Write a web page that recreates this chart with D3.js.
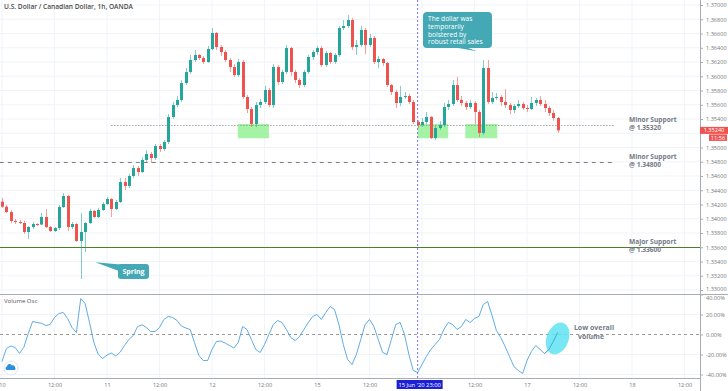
<!DOCTYPE html>
<html>
<head>
<meta charset="utf-8">
<script src="https://cdn.jsdelivr.net/npm/d3@7"></script>
<style>
  body { margin: 0; background: #fff; }
  svg { display: block; }
  text { font-family: "Open Sans", Lato, sans-serif; }
</style>
</head>
<body>
<svg id="chart" width="728" height="391"></svg>
<script>
// hourly USD/CAD bars starting 10 Jun 00:00 (open = previous close)
const firstOpen = 1.34239;
const closes = [
  1.34169, 1.34095, 1.33969, 1.33954, 1.33940, 1.33814, 1.33884, 1.33926, 1.33919, 1.34025,
  1.33884, 1.33828, 1.33870, 1.34165, 1.34319, 1.33884, 1.33926, 1.33688, 1.33814, 1.33940,
  1.34109, 1.34025, 1.34123, 1.34207, 1.34277, 1.34137, 1.34235, 1.34516, 1.34460, 1.34600,
  1.34712, 1.34656, 1.34825, 1.34909, 1.34853, 1.35021, 1.34979, 1.35077, 1.35428, 1.35596,
  1.35667, 1.35905, 1.36060, 1.36228, 1.36298, 1.36256, 1.36200, 1.36382, 1.36607, 1.36411,
  1.36340, 1.36228, 1.36130, 1.36018, 1.36200, 1.35709, 1.35540, 1.35330, 1.35596, 1.35639,
  1.35807, 1.35596, 1.36130, 1.35919, 1.36060, 1.36396, 1.36060, 1.35947, 1.35877, 1.36060,
  1.36270, 1.36340, 1.36396, 1.36158, 1.36326, 1.36200, 1.36298, 1.36677, 1.36705, 1.36789,
  1.36411, 1.36439, 1.36649, 1.36439, 1.36537, 1.36200, 1.36242, 1.36186, 1.35877, 1.35779,
  1.35625, 1.35709, 1.35723, 1.35639, 1.35358, 1.35316, 1.35358, 1.35428, 1.35133, 1.35274,
  1.35316, 1.35568, 1.35611, 1.35877, 1.35667, 1.35625, 1.35568, 1.35625, 1.35498, 1.35204,
  1.36116, 1.35639, 1.35695, 1.35709, 1.35639, 1.35596, 1.35526, 1.35582, 1.35611, 1.35554,
  1.35540, 1.35625, 1.35667, 1.35611, 1.35554, 1.35484, 1.35414, 1.35240
];
const highs = [
  1.34291, 1.34193, 1.34123, 1.33997, 1.33983, 1.33969, 1.33898, 1.33954, 1.33940, 1.34081,
  1.34137, 1.33898, 1.33884, 1.34193, 1.34362, 1.34333, 1.33954, 1.33940, 1.34081, 1.33954,
  1.34137, 1.34123, 1.34151, 1.34235, 1.34305, 1.34291, 1.34263, 1.34572, 1.34572, 1.34628,
  1.34754, 1.34740, 1.34867, 1.34965, 1.34937, 1.35049, 1.35049, 1.35105, 1.35470, 1.35639,
  1.35723, 1.35947, 1.36116, 1.36298, 1.36368, 1.36312, 1.36284, 1.36425, 1.36677, 1.36621,
  1.36439, 1.36368, 1.36256, 1.36172, 1.36242, 1.36228, 1.35737, 1.35568, 1.35639, 1.35681,
  1.35863, 1.35835, 1.36172, 1.36158, 1.36088, 1.36439, 1.36411, 1.36088, 1.35975, 1.36088,
  1.36298, 1.36368, 1.36425, 1.36425, 1.36354, 1.36340, 1.36326, 1.36705, 1.36789, 1.36860,
  1.36818, 1.36509, 1.36705, 1.36677, 1.36593, 1.36565, 1.36284, 1.36256, 1.36200, 1.35891,
  1.35807, 1.35863, 1.35779, 1.35751, 1.35667, 1.35386, 1.35414, 1.35498, 1.35442, 1.35302,
  1.35372, 1.35625, 1.35667, 1.35947, 1.35990, 1.35723, 1.35653, 1.35667, 1.35653, 1.35526,
  1.36228, 1.36228, 1.35779, 1.35765, 1.35737, 1.35821, 1.35625, 1.35611, 1.35667, 1.35639,
  1.35596, 1.35709, 1.35695, 1.35723, 1.35667, 1.35582, 1.35526, 1.35428
];
const lows = [
  1.34151, 1.34081, 1.33940, 1.33926, 1.33926, 1.33786, 1.33716, 1.33856, 1.33898, 1.33912,
  1.33870, 1.33814, 1.33814, 1.33842, 1.34151, 1.33828, 1.33856, 1.33674, 1.33154, 1.33533,
  1.33926, 1.34011, 1.34011, 1.34109, 1.34193, 1.34025, 1.34123, 1.34221, 1.34404, 1.34432,
  1.34572, 1.34600, 1.34642, 1.34796, 1.34782, 1.34825, 1.34937, 1.34951, 1.35049, 1.35400,
  1.35568, 1.35639, 1.35877, 1.36032, 1.36200, 1.36228, 1.36172, 1.36186, 1.36368, 1.36368,
  1.36284, 1.36200, 1.36060, 1.35990, 1.35990, 1.35681, 1.35484, 1.35288, 1.35288, 1.35554,
  1.35611, 1.35568, 1.35554, 1.35877, 1.35891, 1.36032, 1.36004, 1.35905, 1.35835, 1.35849,
  1.36032, 1.36228, 1.36298, 1.36130, 1.36130, 1.36172, 1.36172, 1.36270, 1.36649, 1.36677,
  1.36368, 1.36298, 1.36411, 1.36312, 1.36411, 1.36172, 1.36116, 1.36144, 1.35849, 1.35737,
  1.35554, 1.35582, 1.35681, 1.35611, 1.35330, 1.35274, 1.35288, 1.35330, 1.35119, 1.35105,
  1.35246, 1.35288, 1.35526, 1.35582, 1.35639, 1.35582, 1.35526, 1.35540, 1.35330, 1.35147,
  1.35176, 1.35611, 1.35611, 1.35667, 1.35582, 1.35554, 1.35470, 1.35484, 1.35554, 1.35526,
  1.35498, 1.35526, 1.35582, 1.35582, 1.35498, 1.35442, 1.35372, 1.35204
];
// volume oscillator, percent, one value per bar
const volOsc = [
  -27, -14, -11.5, -13, -19, -12.7, 1, 13, 12, 11.3,
  9, 10, 17, 21, 22, 16, 7, 2, 36, 31,
  12, -8, -20, -24, -20.5, -18.5, -21.5, -17.7, -11, -5,
  -1, 8, 9.7, 7, 3, 3, 7, 15, 18, 17,
  14, 8.5, 6.5, 5, -8, -21, -26, -26, -15, -7,
  -6.5, -8.5, -11, -13.5, -8, 8, 5, -5, -15, -18,
  -10, 0, 10, 14, 12, 5, -3, -6, -2, 5,
  12, 18, 20, 15, 22, 28, 25, 10, -10, -25,
  -30, -20, -5, 10, 15, 8, -5, -18, -20, -5,
  10, 12, 0, -20, -36, -38, -30, -22, -15, -10,
  -5, 5, 12, 10, 5, 8, 15, 12, 16, 18,
  30, 33, 19, 4, -3, -12, -22, -32, -36, -39,
  -26, -17, -11, -15, -19, -15, -7, 2
];

const priceTicks = [1.33, 1.332, 1.334, 1.336, 1.338, 1.34, 1.342, 1.344, 1.346, 1.348,
  1.35, 1.352, 1.354, 1.356, 1.358, 1.36, 1.362, 1.364, 1.366, 1.368, 1.37];
const volTicks = [40, 20, 0, -20, -40];
const timeTickIndex = [0, 12, 24, 36, 48, 60, 72, 84, 96, 108, 120, 132, 144, 156];
const timeLabels = ['10', '12:00', '11', '12:00', '12', '12:00', '15', '12:00', '16', '12:00', '17', '12:00', '18', '12:00'];

// support levels and highlighted zones
const levels = [
  { price: 1.3532, from: 25, to: 140, style: 'dot', label: ['Minor Support', '@ 1.35320'] },
  { price: 1.348, from: -0.5, to: 140, style: 'dash', label: ['Minor Support', '@ 1.34800'] },
  { price: 1.336, from: -0.5, to: 160, style: 'solid', label: ['Major Support', '@ 1.33600'] }
];
const zones = [
  { from: 53.9, to: 61, top: 1.3533, bottom: 1.3513 },
  { from: 95, to: 102, top: 1.3533, bottom: 1.3513 },
  { from: 105.9, to: 113.2, top: 1.3533, bottom: 1.3513 }
];
const crossIndex = 95;
const lastPrice = 1.3524;

const svg = d3.select('#chart');
const AXIS_X = 700;
const x = d3.scaleLinear().domain([0, 160]).range([2, 702]);
const y = d3.scaleLinear().domain([1.33, 1.37]).range([290, 5]);
const yv = d3.scaleLinear().domain([-40, 40]).range([374.5, 294.5]);

const defs = svg.append('defs');
defs.append('clipPath').attr('id', 'plot')
  .append('rect').attr('x', 0).attr('y', 0).attr('width', AXIS_X).attr('height', 378);
defs.append('clipPath').attr('id', 'priceAxis')
  .append('rect').attr('x', AXIS_X).attr('y', 0).attr('width', 28).attr('height', 294.5);
defs.append('clipPath').attr('id', 'volAxis')
  .append('rect').attr('x', AXIS_X).attr('y', 295).attr('width', 28).attr('height', 84);

// grid
const grid = svg.append('g');
grid.selectAll('.hg').data(priceTicks).enter().append('line')
  .attr('x1', 0).attr('x2', AXIS_X).attr('y1', d => y(d)).attr('y2', d => y(d))
  .attr('stroke', '#f0f3f8').attr('stroke-width', 1);
grid.selectAll('.vg').data(volTicks.filter(d => d !== 0)).enter().append('line')
  .attr('x1', 0).attr('x2', AXIS_X).attr('y1', d => yv(d)).attr('y2', d => yv(d))
  .attr('stroke', '#f0f3f8');
grid.selectAll('.tg').data(timeTickIndex).enter().append('line')
  .attr('x1', d => x(d)).attr('x2', d => x(d)).attr('y1', 0).attr('y2', 378)
  .attr('stroke', '#f0f3f8');

// zones
svg.append('g').selectAll('rect').data(zones).enter().append('rect')
  .attr('x', d => x(d.from)).attr('width', d => x(d.to) - x(d.from))
  .attr('y', d => y(d.top)).attr('height', d => y(d.bottom) - y(d.top))
  .attr('fill', '#8ef08e').attr('opacity', 0.8);

// level lines
const dashes = { dot: '1,2', dash: '4,4', solid: null };
const lvl = svg.append('g');
lvl.selectAll('line').data(levels).enter().append('line')
  .attr('x1', d => x(d.from)).attr('x2', d => Math.min(x(d.to), AXIS_X))
  .attr('y1', d => Math.round(y(d.price)) + 0.5).attr('y2', d => Math.round(y(d.price)) + 0.5)
  .attr('stroke', d => d.style === 'solid' ? '#4a7f2c' : '#808080')
  .attr('stroke-dasharray', d => dashes[d.style]);
levels.forEach(d => {
  d.label.forEach((s, k) =>
    lvl.append('text').attr('x', 629).attr('y', y(d.price) - 2.8 + k * 8)
      .attr('font-size', 6.6).attr('font-weight', 'bold').attr('fill', '#737b87').text(s));
});

// candles
const bars = closes.map((c, i) => ({ i, o: i ? closes[i - 1] : firstOpen, c, h: highs[i], l: lows[i] }));
const up = '#26a69a', down = '#ef5350';
const cg = svg.append('g').attr('clip-path', 'url(#plot)');
cg.selectAll('.wick').data(bars).enter().append('line')
  .attr('x1', d => Math.round(x(d.i)) + 0.5).attr('x2', d => Math.round(x(d.i)) + 0.5)
  .attr('y1', d => y(d.h)).attr('y2', d => y(d.l))
  .attr('stroke', d => d.c >= d.o ? up : down).attr('stroke-width', 1).attr('opacity', 0.55);
cg.selectAll('.body').data(bars).enter().append('rect')
  .attr('x', d => Math.round(x(d.i)) - 1).attr('width', 3)
  .attr('y', d => y(Math.max(d.o, d.c)))
  .attr('height', d => Math.max(1, Math.abs(y(d.o) - y(d.c))))
  .attr('fill', d => d.c >= d.o ? up : down);

// volume panel
svg.append('line').attr('x1', 0).attr('x2', AXIS_X).attr('y1', yv(0)).attr('y2', yv(0))
  .attr('stroke', '#9a9a9a').attr('stroke-dasharray', '3,3');
svg.append('path').datum(volOsc)
  .attr('d', d3.line().x((d, i) => x(i)).y(d => yv(d)))
  .attr('fill', 'none').attr('stroke', '#4ea3e0').attr('stroke-width', 0.9);

// panel borders
svg.append('line').attr('x1', 0).attr('x2', 728).attr('y1', 294.5).attr('y2', 294.5).attr('stroke', '#a9acb3');
svg.append('line').attr('x1', 0).attr('x2', AXIS_X).attr('y1', 378.5).attr('y2', 378.5).attr('stroke', '#a9acb3');
svg.append('line').attr('x1', AXIS_X + 0.5).attr('x2', AXIS_X + 0.5).attr('y1', 0).attr('y2', 391).attr('stroke', '#a9acb3');

// crosshair
svg.append('line').attr('x1', x(crossIndex)).attr('x2', x(crossIndex)).attr('y1', 0).attr('y2', 378)
  .attr('stroke', '#7a6ef0').attr('stroke-dasharray', '2,2');

// axes (labels under the price / crosshair badges are hidden, as on the chart)
function styleAxis(g) {
  g.select('.domain').remove();
  g.selectAll('line').attr('stroke', '#a9acb3');
  g.selectAll('text').attr('fill', '#777').attr('font-size', 5.6).attr('font-family', 'Lato, sans-serif');
}
const shownPrice = priceTicks.filter(p => Math.abs(y(p) - y(lastPrice)) > 6);
svg.append('g').attr('clip-path', 'url(#priceAxis)').append('g')
  .attr('transform', `translate(${AXIS_X},0)`)
  .call(d3.axisRight(y).tickValues(shownPrice).tickFormat(d3.format('.5f')).tickSize(3).tickPadding(3))
  .call(styleAxis)
  .selectAll('text').filter(d => d === 1.33).attr('dy', '0.1em');
svg.append('g').attr('clip-path', 'url(#volAxis)').append('g')
  .attr('transform', `translate(${AXIS_X},0)`)
  .call(d3.axisRight(yv).tickValues(volTicks).tickFormat(d => d.toFixed(2) + '%').tickSize(3).tickPadding(3))
  .call(styleAxis)
  .selectAll('text').filter(d => d === 40).attr('dy', '0.9em');
const shownTime = timeTickIndex.filter(t => Math.abs(x(t) - x(crossIndex)) > 25);
svg.append('g').attr('transform', 'translate(0,378)')
  .call(d3.axisBottom(x).tickValues(shownTime)
    .tickFormat(t => timeLabels[timeTickIndex.indexOf(t)]).tickSize(0).tickPadding(5))
  .call(styleAxis);

// last price labels
const lp = svg.append('g');
lp.append('rect').attr('x', AXIS_X).attr('y', y(lastPrice) - 3.5).attr('width', 28).attr('height', 7).attr('fill', '#ef5350');
lp.append('text').attr('x', 714).attr('y', y(lastPrice) + 2).attr('text-anchor', 'middle')
  .attr('font-size', 5.6).attr('fill', '#fff').attr('font-family', 'Lato, sans-serif').text('1.35240');
lp.append('rect').attr('x', 709).attr('y', y(lastPrice) + 4).attr('width', 18).attr('height', 6.5).attr('fill', '#ef5350');
lp.append('text').attr('x', 718).attr('y', y(lastPrice) + 9.3).attr('text-anchor', 'middle')
  .attr('font-size', 5.6).attr('fill', '#fff').attr('font-family', 'Lato, sans-serif').text('11:56');

// crosshair time label
const cx = x(crossIndex);
svg.append('rect').attr('x', cx - 21).attr('y', 380).attr('width', 46).attr('height', 9).attr('fill', '#1b1fd6');
svg.append('text').attr('x', cx + 2).attr('y', 386.8).attr('text-anchor', 'middle')
  .attr('font-size', 5.8).attr('fill', '#fff').attr('font-family', 'Lato, sans-serif').text("15 Jun '20   23:00");

// titles
svg.append('text').attr('x', 4).attr('y', 9).attr('font-size', 6.6).attr('font-weight', 600)
  .attr('fill', '#4a4a4a').text('U.S. Dollar / Canadian Dollar, 1h, OANDA');
svg.append('text').attr('x', 4).attr('y', 303).attr('font-size', 6).attr('fill', '#555').text('Volume Osc');

// callout: retail sales
const teal = '#45a9b5';
const c1 = svg.append('g');
c1.append('path').attr('d', `M${x(103)},47 L${x(108.5)},${y(1.3635)} L${x(106)},47 Z`).attr('fill', teal);
c1.append('rect').attr('x', 423).attr('y', 12).attr('width', 69).attr('height', 36).attr('rx', 4).attr('fill', teal);
['The dollar was', 'temporarily', 'bolstered by', 'robust retail sales'].forEach((s, k) =>
  c1.append('text').attr('x', 428).attr('y', 21 + k * 7.8)
    .attr('font-size', 6.6).attr('font-weight', 500).attr('fill', '#fff').text(s));

// callout: spring
const c2 = svg.append('g');
c2.append('path').attr('d', `M${x(21.3)},${y(1.3339)} L126,265 L119,271 Z`).attr('fill', teal);
c2.append('rect').attr('x', 118).attr('y', 264).attr('width', 31).attr('height', 15).attr('rx', 3).attr('fill', teal);
c2.append('text').attr('x', 133.5).attr('y', 274).attr('text-anchor', 'middle').attr('font-size', 7)
  .attr('font-weight', 'bold').attr('fill', '#fff').text('Spring');

// low volume marker
svg.append('ellipse').attr('cx', x(127)).attr('cy', yv(-4)).attr('rx', 11).attr('ry', 16.5)
  .attr('transform', `rotate(20,${x(127)},${yv(-4)})`)
  .attr('fill', '#5fe3f2').attr('opacity', 0.85);
svg.append('path').datum(volOsc.slice(124))
  .attr('d', d3.line().x((d, i) => x(i + 124)).y(d => yv(d)))
  .attr('fill', 'none').attr('stroke', '#4ea3e0').attr('stroke-width', 0.9);
[['Low overall', 594], ['volume', 591]].forEach(([s, tx], k) =>
  svg.append('text').attr('x', tx).attr('y', 330 + k * 8.6).attr('text-anchor', 'middle')
    .attr('font-size', 7).attr('font-weight', 'bold').attr('fill', '#737b87').text(s));

// logo
const logo = svg.append('g').attr('transform', 'translate(11,368)');
logo.append('circle').attr('r', 7).attr('fill', '#fff').attr('stroke', '#e1e8f0');
logo.append('path').attr('d', 'M-4.5,2 a2,2 0 0 1 0.5,-3.6 a2.6,2.6 0 0 1 5,-0.8 a2,2 0 0 1 3,2.2 a1.5,1.5 0 0 1 0,2.2 Z')
  .attr('fill', '#2e8fdc');
</script>
</body>
</html>
